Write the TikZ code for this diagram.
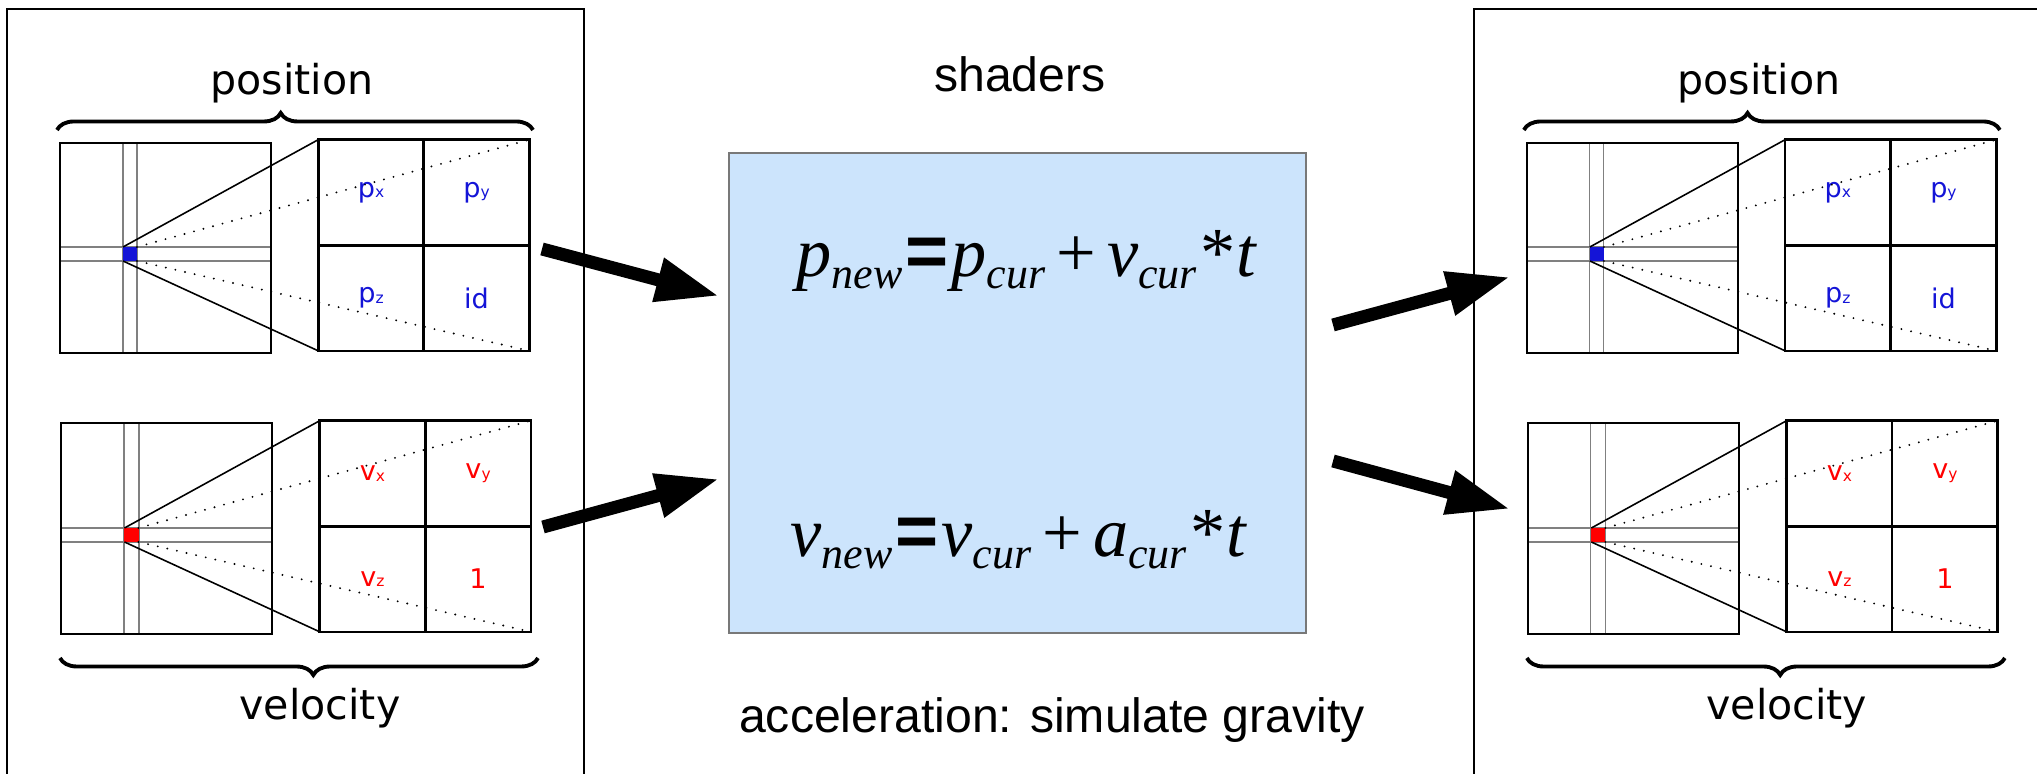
\documentclass[tikz,border=0pt]{standalone}
\usepackage{fontspec}
\setmainfont{DejaVu Sans}
\newfontfamily\arialfont{Liberation Sans}
\newfontfamily\timesfont{Liberation Serif}
\usetikzlibrary{arrows.meta, positioning, decorations.pathreplacing}

\definecolor{pblue}{RGB}{20,20,215}
\definecolor{vred}{RGB}{255,0,0}
\definecolor{shaderblue}{RGB}{204,228,252}
\definecolor{boxgray}{RGB}{120,120,120}

\newcommand{\comp}[2]{#1\raisebox{-0.05ex}{\fontsize{4.4}{5}\selectfont #2}}
\newcommand{\eqsub}[1]{\raisebox{-0.12cm}{\fontsize{12.5}{13}\selectfont #1}}
\newcommand{\eqsign}{\hspace{0.03cm}{\arialfont\upshape\bfseries\fontsize{21}{21}\selectfont =}\hspace{0.03cm}}

\tikzset{
  frame/.style={draw, line width=0.6pt},
  texture/.style={draw, line width=0.75pt},
  texel line/.style={draw=gray, line width=0.35pt},
  texel/.style={inner sep=0pt, outer sep=0pt, minimum size=0.14cm},
  magcell/.style={draw, line width=0.75pt, minimum size=1.055cm, inner sep=0pt, outer sep=0pt, font=\fontsize{7.7}{8}\selectfont},
  zoomline/.style={line width=0.45pt},
  zoomdots/.style={line width=0.6pt, line cap=round, dash pattern=on 0pt off 2.8pt},
  bufbrace/.style={decorate, decoration={brace, amplitude=0.17cm, aspect=0.47}, line width=1.1pt},
  buflabel/.style={anchor=base, font=\fontsize{11.7}{13}\selectfont},
  eqline/.style={anchor=base, font=\timesfont\fontsize{20}{21}\selectfont\itshape},
  flow/.style={line width=0.13cm, -{Triangle[length=0.63cm, width=0.42cm]}},
}

\begin{document}
\begin{tikzpicture}[x=0.01cm, y=-0.01cm]
  \useasboundingbox (0,0) rectangle (2037,774);
  \clip (0,0) rectangle (2037,774);

  % input and output buffers
  \foreach \side/\sx in {in/0cm, out/14.66cm} {
    \begin{scope}[xshift=\sx]
      \draw[frame] (7,9) rectangle (584,800);

      % position texture
      \node[buflabel] (postitle-\side) at (292,95) {position};
      \draw[bufbrace] (57,130) -- (533,130);
      \draw[texel line] (123,143) -- (123,353) (137,143) -- (137,353)
                        (60,247) -- (271,247) (60,261) -- (271,261);
      \draw[texture] (60,143) rectangle (271,353);
      \node[texel, fill=pblue] (postexel-\side) at (130,254) {};
      \node[magcell, text=pblue] (px-\side) at (371,192.5) {\comp{p}{x}};
      \node[magcell, text=pblue, right=0pt of px-\side] (py-\side) {\comp{p}{y}};
      \node[magcell, text=pblue, below=0pt of px-\side] (pz-\side) {\comp{p}{z}};
      \node[magcell, text=pblue, right=0pt of pz-\side] (pid-\side) {id};
      \draw[zoomline] (postexel-\side.north west) -- (px-\side.north west)
                      (postexel-\side.south west) -- (pz-\side.south west);
      \draw[zoomdots] (postexel-\side.north east) -- (py-\side.north east)
                      (postexel-\side.south east) -- (pid-\side.south east);

      % velocity texture
      \draw[texel line] (124,423) -- (124,634) (139,423) -- (139,634)
                        (61,528) -- (272,528) (61,542) -- (272,542);
      \draw[texture] (61,423) rectangle (272,634);
      \node[texel, fill=vred] (veltexel-\side) at (131.5,535) {};
      \node[magcell, text=vred] (vx-\side) at (372.5,473.5) {\comp{v}{x}};
      \node[magcell, text=vred, right=0pt of vx-\side] (vy-\side) {\comp{v}{y}};
      \node[magcell, text=vred, below=0pt of vx-\side] (vz-\side) {\comp{v}{z}};
      \node[magcell, text=vred, right=0pt of vz-\side] (vone-\side) {1};
      \draw[zoomline] (veltexel-\side.north west) -- (vx-\side.north west)
                      (veltexel-\side.south west) -- (vz-\side.south west);
      \draw[zoomdots] (veltexel-\side.north east) -- (vy-\side.north east)
                      (veltexel-\side.south east) -- (vone-\side.south east);
      \draw[bufbrace] (538,658) -- (60,658);
      \node[buflabel] (veltitle-\side) at (320,720) {velocity};
    \end{scope}
  }

  % shader
  \node[anchor=base, font=\arialfont\fontsize{13.7}{15}\selectfont] (shadertitle) at (1020,92) {shaders};
  \node[draw=boxgray, fill=shaderblue, line width=0.5pt, minimum width=5.77cm, minimum height=4.8cm] (shader) at (1017.5,393) {};
  \node[eqline] (poseq) at (1026,277)
    {p\eqsub{new}\eqsign p\eqsub{cur}\hspace{0.11cm}{\upshape +}\hspace{0.11cm}v\eqsub{cur}\hspace{0.04cm}{\upshape *}t};
  \node[eqline] (veleq) at (1018,557)
    {v\eqsub{new}\eqsign v\eqsub{cur}\hspace{0.11cm}{\upshape +}\hspace{0.11cm}a\eqsub{cur}\hspace{0.04cm}{\upshape *}t};
  \node[anchor=base, font=\arialfont\fontsize{13.7}{15}\selectfont] (gravity) at (1052,733) {acceleration: simulate gravity};

  % arrows
  \coordinate (posread) at (542,249);
  \coordinate (posfeed) at (719,296);
  \coordinate (velread) at (543,527);
  \coordinate (velfeed) at (719,479);
  \coordinate (poswrite) at (1333,325);
  \coordinate (posstore) at (1510,277);
  \coordinate (velwrite) at (1333,461);
  \coordinate (velstore) at (1510,509);
  \draw[flow] (posread) -- (posfeed);
  \draw[flow] (velread) -- (velfeed);
  \draw[flow] (poswrite) -- (posstore);
  \draw[flow] (velwrite) -- (velstore);
\end{tikzpicture}
\end{document}
